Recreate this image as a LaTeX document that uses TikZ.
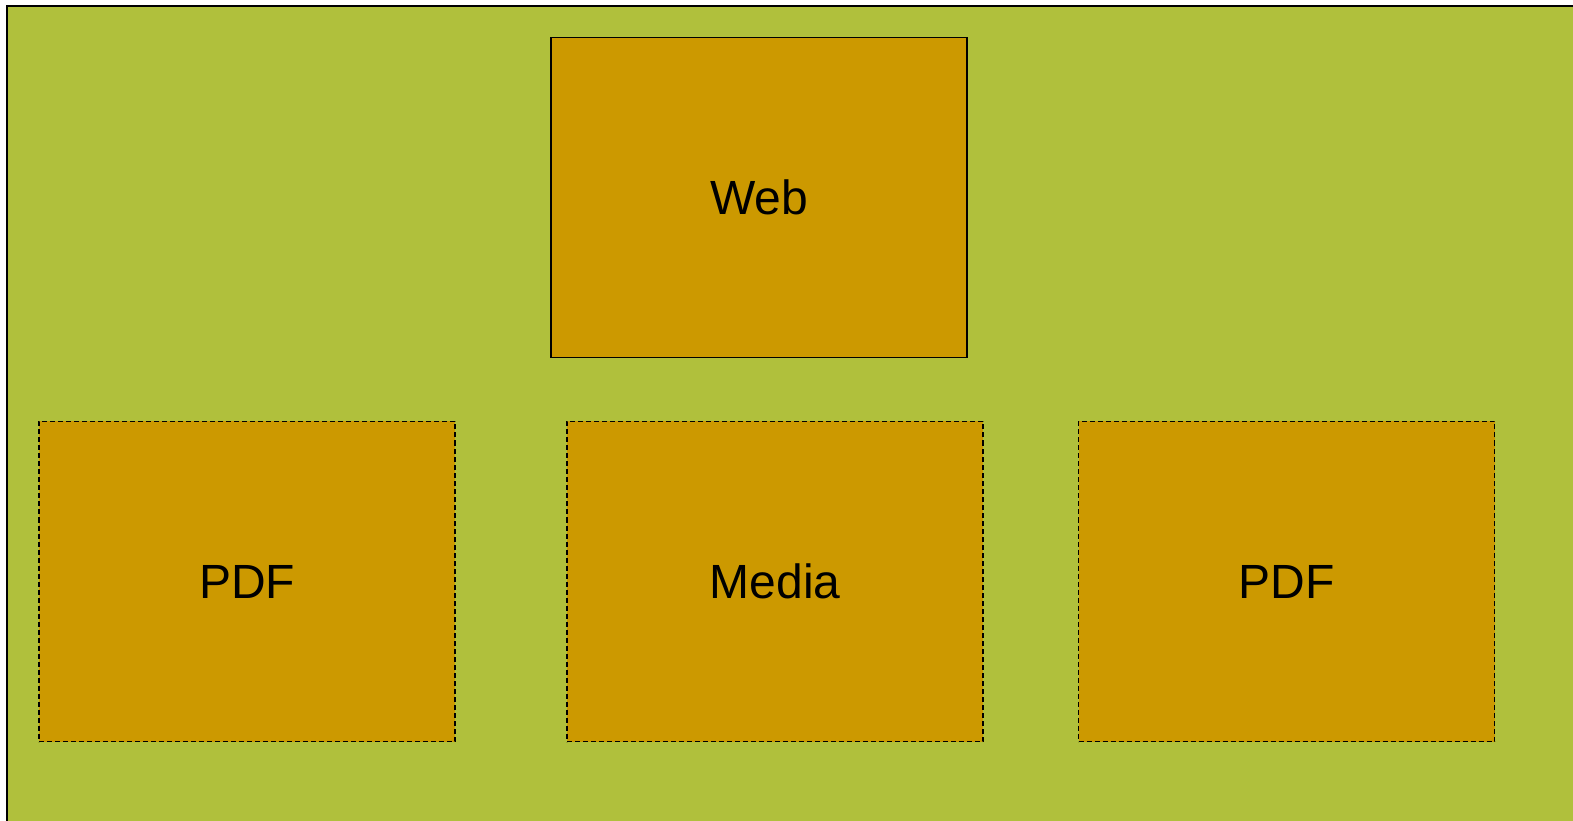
\documentclass[tikz,border=0pt]{standalone}
\usepackage{fontspec}
\setmainfont{Liberation Sans}
\usepackage{tikz}

\definecolor{pagegreen}{RGB}{176,192,60}
\definecolor{boxgold}{RGB}{204,153,0}

\begin{document}
\begin{tikzpicture}[
    x=1pt, y=1pt,
    block/.style={rectangle, draw=black, fill=boxgold, line width=1.4pt,
      minimum width=416pt, minimum height=320pt, inner sep=0pt,
      font=\fontsize{48}{58}\selectfont},
    dashblock/.style={block, dash pattern=on 5pt off 3pt}
  ]
  \useasboundingbox (0,0) rectangle (1573,820);

  % Background panel
  \draw[fill=pagegreen, line width=2pt] (7,-20) rectangle (1600,814);

  % Top row
  \node[block] (web) at (759,622.5) {Web};

  % Bottom row
  \node[dashblock] (pdfleft) at (247,238.5) {PDF};
  \node[dashblock] (media) at (775,238.5) {Media};
  \node[dashblock] (pdfright) at (1286.5,238.5) {PDF};

\end{tikzpicture}
\end{document}
